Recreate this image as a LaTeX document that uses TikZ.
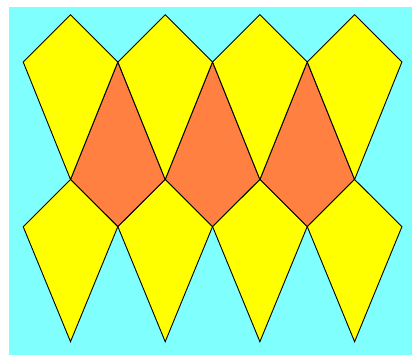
\documentclass[tikz,border=0pt]{standalone}
\usetikzlibrary{calc}
\definecolor{skycyan}{HTML}{80FFFF}
\definecolor{kiteyellow}{HTML}{FFFF00}
\definecolor{kiteorange}{HTML}{FF8040}
\tikzset{
  kite/.style={draw=black, fill=kiteyellow, line width=0.9pt, line join=miter},
  midkite/.style={draw=black, fill=kiteorange, line width=0.9pt, line join=miter}
}
\begin{document}
\begin{tikzpicture}[x=1pt,y=-1pt]
\useasboundingbox (0,0) rectangle (412,355);
\fill[skycyan] (9,7) rectangle (412,355);
% orange kites between the rows
\foreach \k in {0,1,2}{
  \pgfmathsetmacro{\cx}{70.5+94.7*\k+47.35}
  \draw[midkite] (\cx,62) -- (\cx+47.35,179.5) -- (\cx,226.7) -- (\cx-47.35,179.5) -- cycle;
}
% top row
\foreach \k in {0,...,3}{
  \pgfmathsetmacro{\cx}{70.5+94.7*\k}
  \draw[kite] (\cx,14.7) -- (\cx+47.3,62) -- (\cx,179.5) -- (\cx-47.3,62) -- cycle;
}
% bottom row
\foreach \k in {0,...,3}{
  \pgfmathsetmacro{\cx}{70.5+94.7*\k}
  \draw[kite] (\cx,179.5) -- (\cx+47.3,226.7) -- (\cx,341.7) -- (\cx-47.3,226.7) -- cycle;
}
\end{tikzpicture}
\end{document}
